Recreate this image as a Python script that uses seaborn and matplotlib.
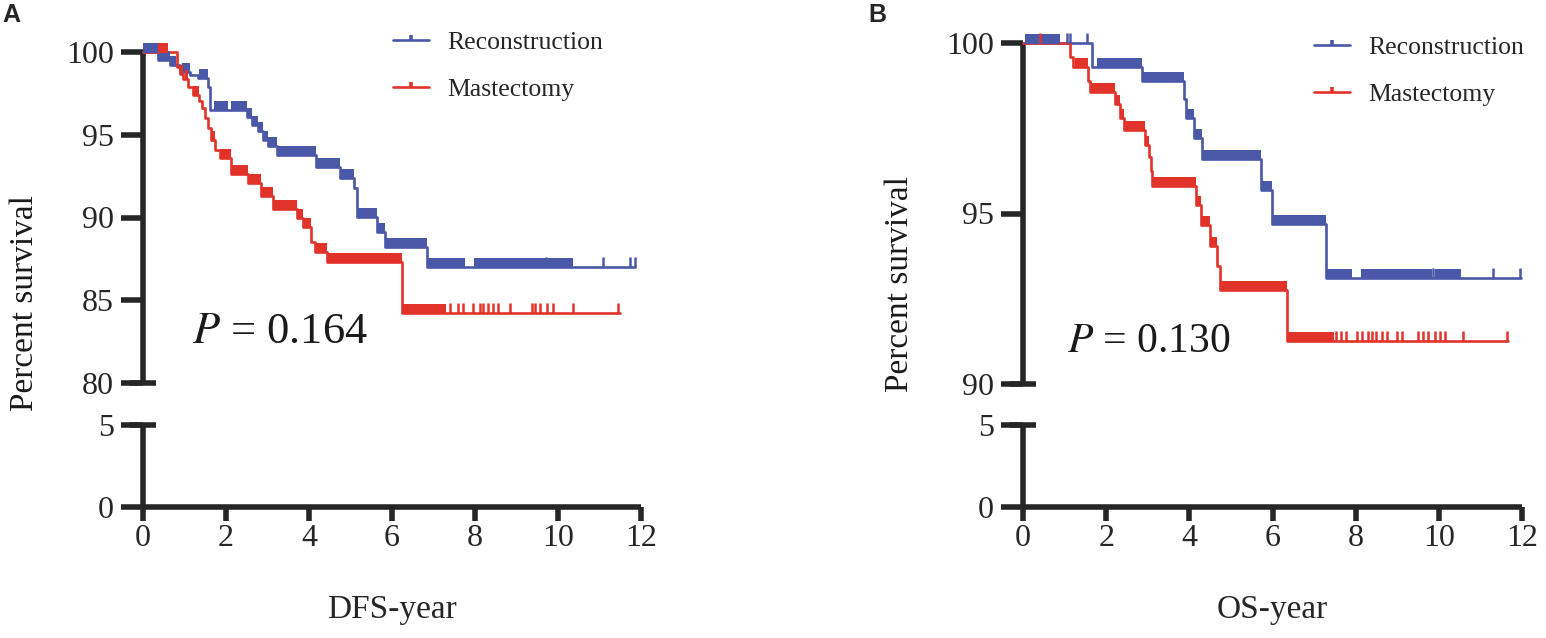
import numpy as np
import pandas as pd
import matplotlib
matplotlib.use('Agg')
import matplotlib.pyplot as plt
from matplotlib.lines import Line2D
from matplotlib.path import Path
from matplotlib.transforms import offset_copy
import seaborn as sns

# ---- data (years, percent survival) ----
# panel A: DFS
dfs_recon_years = [0, 0.37, 0.65, 0.89, 1.13, 1.33, 1.57, 1.61, 2.50, 2.62, 2.78, 2.90, 3.02, 3.22,
                   4.16, 4.75, 5.08, 5.15, 5.63, 5.83, 6.84, 11.86]
dfs_recon_surv = [100, 99.5, 99.2, 98.8, 98.6, 98.4, 97.9, 96.5, 96.05, 95.6, 95.2, 94.7, 94.3, 93.75,
                  93.07, 92.37, 91.8, 90.05, 89.14, 88.2, 87.0, 87.0]
dfs_recon_blocks = [(0.0, 0.37), (0.37, 0.65), (0.65, 0.80), (0.93, 1.13), (1.36, 1.57), (1.72, 2.04),
                    (2.12, 2.50), (2.50, 2.62), (2.62, 2.78), (2.78, 2.90), (2.90, 3.02), (3.02, 3.22),
                    (3.22, 4.16), (4.16, 4.75), (4.75, 5.08), (5.15, 5.63), (5.63, 5.83), (5.83, 6.84),
                    (6.84, 7.76), (7.98, 9.70), (9.74, 10.36)]
dfs_recon_ticks = [9.72, 11.09, 11.73, 11.86]

dfs_mast_years = [0, 0.81, 0.89, 0.97, 1.09, 1.21, 1.35, 1.41, 1.49, 1.57, 1.65, 1.73, 1.85, 2.12,
                  2.52, 2.84, 3.14, 3.70, 3.86, 4.06, 4.14, 4.43, 6.23, 11.49]
dfs_mast_surv = [100, 99.1, 98.7, 98.35, 97.9, 97.4, 97.05, 96.6, 96.0, 95.4, 94.7, 94.1, 93.6, 92.6,
                 92.1, 91.3, 90.5, 90.0, 89.4, 88.5, 87.9, 87.3, 84.2, 84.2]
dfs_mast_blocks = [(0.37, 0.61), (0.89, 0.97), (1.02, 1.09), (1.21, 1.35), (1.65, 1.73), (1.85, 2.12),
                   (2.12, 2.52), (2.52, 2.84), (2.84, 3.14), (3.14, 3.70), (3.70, 3.86), (3.86, 4.06),
                   (4.14, 4.43), (4.43, 6.23), (6.23, 7.30)]
dfs_mast_ticks = [7.40, 7.60, 7.72, 7.96, 8.12, 8.20, 8.32, 8.44, 8.56, 8.84, 9.37, 9.45, 9.57,
                  9.73, 9.89, 10.37, 11.45]

# panel B: OS
os_recon_years = [0, 1.65, 2.86, 3.87, 3.91, 4.11, 4.31, 5.72, 5.98, 7.29, 11.97]
os_recon_surv = [100, 99.3, 98.9, 98.35, 97.8, 97.2, 96.6, 95.7, 94.7, 93.1, 93.1]
os_recon_blocks = [(0.06, 0.90), (1.77, 2.86), (2.86, 3.87), (3.91, 4.11), (4.11, 4.31), (4.31, 5.72),
                   (5.72, 5.98), (5.98, 7.29), (7.29, 7.92), (8.12, 9.83), (9.90, 10.54)]
os_recon_ticks = [1.05, 1.12, 1.55, 9.86, 11.30, 11.95]

os_mast_years = [0, 1.13, 1.21, 1.56, 1.61, 2.21, 2.33, 2.44, 2.94, 3.04, 3.08, 3.10, 4.15, 4.27,
                 4.49, 4.67, 4.73, 6.35, 11.67]
os_mast_surv = [100, 99.6, 99.3, 98.9, 98.55, 98.2, 97.8, 97.45, 97.0, 96.65, 96.25, 95.8, 95.25,
                94.65, 94.05, 93.45, 92.75, 91.25, 91.25]
os_mast_blocks = [(1.25, 1.56), (1.61, 2.21), (2.21, 2.33), (2.33, 2.44), (2.44, 2.94), (2.94, 3.04),
                  (3.10, 4.15), (4.15, 4.27), (4.27, 4.49), (4.49, 4.67), (4.73, 6.35), (6.35, 7.48)]
os_mast_ticks = [0.42, 7.52, 7.64, 7.76, 8.04, 8.16, 8.29, 8.40, 8.48, 8.63, 8.75, 8.99, 9.11,
                 9.51, 9.63, 9.75, 9.90, 10.02, 10.14, 10.58, 11.65]

groups = ['Reconstruction', 'Mastectomy']
p_values = ['0.164', '0.130']
x_labels = ['DFS-year', 'OS-year']
panel_letters = ['A', 'B']
upper_ylims = [(80, 100), (90, 100)]
upper_yticks = [[80, 85, 90, 95, 100], [90, 95, 100]]
lower_yticks = [0, 5]
x_ticks = [0, 2, 4, 6, 8, 10, 12]

BLUE = '#4a58a8'
RED = '#e2332b'
INK = '#262626'
palette = {'Reconstruction': BLUE, 'Mastectomy': RED}

sns.set_theme(style='white')
plt.rcParams['font.family'] = ['Liberation Serif', 'DejaVu Serif']
plt.rcParams['mathtext.fontset'] = 'stix'

W, H = 1546, 638
fig = plt.figure(figsize=(W / 100, H / 100), dpi=100)

# axes positions in pixels: (left, right, top of upper, bottom of upper)
layout = [(143, 641, 52, 383), (1023, 1522, 43, 384)]
lower_top, lower_bottom = 425, 507

tick_marker = Path([(0, 0), (0, 1)])  # censor tick pointing up


def step_level(years, surv, t):
    i = np.searchsorted(years, t, side='right') - 1
    return surv[i]


def style_axis(ax, spine_lw=4.0):
    for s in ['top', 'right']:
        ax.spines[s].set_visible(False)
    for s in ['left', 'bottom']:
        ax.spines[s].set_color(INK)
        ax.spines[s].set_linewidth(spine_lw)
        ax.spines[s].set_capstyle('butt')
    ax.tick_params(axis='y', direction='out', length=16, width=spine_lw, color=INK,
                   labelsize=23, pad=5, left=True)
    ax.tick_params(axis='x', direction='out', length=10, width=spine_lw, color=INK,
                   labelsize=23, pad=2, bottom=True)
    ax.set_facecolor('none')
    ax.grid(False)


def add_cap(ax, y):
    ax.plot([-0.027, 0.027], [y, y], transform=ax.get_yaxis_transform(), clip_on=False,
            color=INK, lw=4.0, solid_capstyle='butt', zorder=5)


curves = [
    [(dfs_recon_years, dfs_recon_surv, dfs_recon_blocks, dfs_recon_ticks),
     (dfs_mast_years, dfs_mast_surv, dfs_mast_blocks, dfs_mast_ticks)],
    [(os_recon_years, os_recon_surv, os_recon_blocks, os_recon_ticks),
     (os_mast_years, os_mast_surv, os_mast_blocks, os_mast_ticks)],
]

for k in range(2):
    left, right, top, bot = layout[k]
    ax = fig.add_axes([left / W, 1 - bot / H, (right - left) / W, (bot - top) / H])
    axl = fig.add_axes([left / W, 1 - lower_bottom / H, (right - left) / W,
                        (lower_bottom - lower_top) / H])

    # long-form table for seaborn
    rows = []
    for g, (yrs, sv, _, _) in zip(groups, curves[k]):
        for t, s in zip(yrs, sv):
            rows.append({'years': t, 'surv': s, 'group': g})
    df = pd.DataFrame(rows)
    sns.lineplot(data=df, x='years', y='surv', hue='group', hue_order=groups, palette=palette,
                 estimator=None, sort=False, drawstyle='steps-post', lw=1.9, legend=False,
                 clip_on=False, ax=ax, zorder=3)

    up = offset_copy(ax.transData, fig=fig, x=0, y=4, units='dots')
    for g, (yrs, sv, blocks, ticks) in zip(groups, curves[k]):
        c = palette[g]
        b_start = [b[0] for b in blocks]
        b_end = [b[1] for b in blocks]
        b_lvl = [step_level(yrs, sv, (b[0] + b[1]) / 2) for b in blocks]
        ax.hlines(b_lvl, b_start, b_end, colors=c, lw=7.2, transform=up, clip_on=False,
                  capstyle='butt', zorder=3)
        t_lvl = [step_level(yrs, sv, t) for t in ticks]
        ax.plot(ticks, t_lvl, ls='none', marker=tick_marker, markersize=14, mew=1.8,
                color=c, clip_on=False, zorder=3)

    style_axis(ax)
    ax.set_xlim(0, 12)
    ax.set_ylim(*upper_ylims[k])
    ax.set_yticks(upper_yticks[k])
    ax.set_xticks([])
    ax.spines['bottom'].set_visible(False)
    ax.set_xlabel('')
    ax.set_ylabel('')
    add_cap(ax, upper_ylims[k][0])

    style_axis(axl)
    axl.set_xlim(0, 12)
    axl.set_ylim(0, 5)
    axl.set_yticks(lower_yticks)
    axl.set_xticks(x_ticks)
    axl.set_xlabel(x_labels[k], fontsize=24, labelpad=30)
    add_cap(axl, 5)

    # p value
    if k == 0:
        ax.text(1.18, 82.4, r'$P$ = ' + p_values[k], fontsize=32, va='baseline', color='#1a1a1a')
    else:
        ax.text(1.06, 90.94, r'$P$ = ' + p_values[k], fontsize=30, va='baseline', color='#1a1a1a')

    # legend
    handles = [Line2D([], [], color=palette[g], lw=1.9, marker=tick_marker, markersize=7, mew=2.6)
               for g in groups]
    leg_x, leg_y = [(393, 31), (1314, 36)][k]
    ax.legend(handles, groups, loc='upper left', bbox_to_anchor=(leg_x / W, 1 - leg_y / H),
              bbox_transform=fig.transFigure, frameon=False, fontsize=18.5, handlelength=1.4,
              handletextpad=0.7, labelspacing=0.95, borderpad=0, borderaxespad=0)

    # y label and panel letter
    ylab_x, ylab_y = [(25, 303), (900, 284)][k]
    fig.text(ylab_x / W, 1 - ylab_y / H, 'Percent survival', rotation=90, fontsize=24,
             ha='center', va='center', color='#1a1a1a')
    fig.text([2, 868][k] / W, 1 - 3 / H, panel_letters[k], fontsize=18, fontweight='bold',
             family='Liberation Sans', ha='left', va='top')

fig.savefig('out.png', dpi=100)
